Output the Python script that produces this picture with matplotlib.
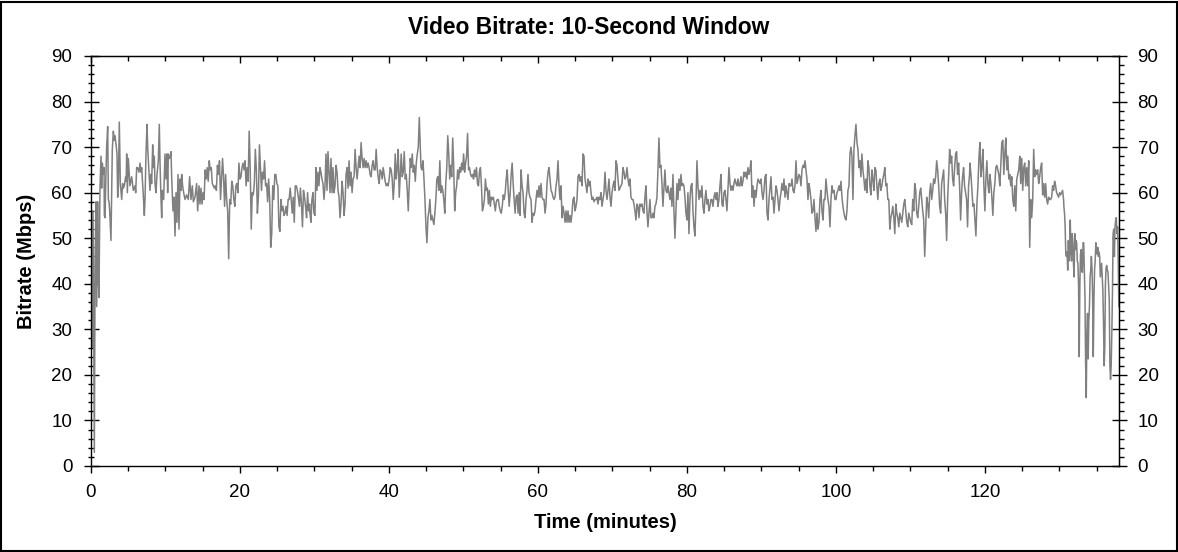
import numpy as np
import matplotlib
matplotlib.use("Agg")
import matplotlib.pyplot as plt
from matplotlib.ticker import MultipleLocator
from matplotlib.patches import Rectangle

plt.rcParams['font.family'] = ['Liberation Sans', 'DejaVu Sans']

# first 15 minutes, read point by point (minutes, Mbps)
t_start = [0.05, 0.12, 0.27, 0.45, 0.55, 0.67, 0.76, 0.89, 0.98, 1.07, 1.2, 1.34, 1.43,
           1.52, 1.66, 1.75, 1.79, 1.88, 1.97, 2.1, 2.24, 2.33, 2.42, 2.51, 2.68, 2.86,
           3.0, 3.13, 3.22, 3.4, 3.49, 3.58, 3.67, 3.8, 3.94, 4.12, 4.25, 4.34, 4.47,
           4.65, 4.72, 4.79, 4.88, 5.01, 5.23, 5.46, 5.68, 5.91, 6.0, 6.13, 6.26, 6.44,
           6.58, 6.71, 6.8, 7.02, 7.16, 7.25, 7.38, 7.52, 7.61, 7.7, 7.92, 8.05, 8.14,
           8.28, 8.37, 8.5, 8.59, 8.72, 8.86, 9.04, 9.17, 9.26, 9.4, 9.49, 9.57, 9.75,
           9.93, 10.07, 10.2, 10.29, 10.38, 10.51, 10.65, 10.74, 10.83, 11.0, 11.14,
           11.28, 11.41, 11.54, 11.68, 11.81, 11.95, 12.08, 12.17, 12.3, 12.44, 12.62,
           12.84, 13.06, 13.24, 13.42, 13.6, 13.74, 13.96, 14.18, 14.32, 14.5, 14.63]
v_start = [50, 26, 56, 3, 45, 58, 35, 58, 41, 37, 60.5, 68, 61,
           66.5, 64, 65.5, 55, 54.5, 61.5, 70, 74.5, 58.5, 58, 56, 49.5, 69.5,
           73.5, 71.5, 72.5, 70, 68.5, 59, 61, 75.5, 62, 58.5, 62, 61, 61.5,
           63.5, 62.5, 68.5, 60, 67.5, 61.5, 63.5, 60.5, 61.5, 60, 65.5, 65.5, 64.5,
           66.5, 64.5, 65.5, 59.5, 55, 58.5, 68.5, 75, 70, 67, 60.5, 64, 62,
           70.5, 65.5, 68, 62, 60, 64, 67, 75, 67, 58.5, 54.5, 60.5, 58.5,
           68.5, 63, 68.5, 60, 68.5, 67.5, 68, 69, 63.5, 56, 59,
           50.5, 60, 53.5, 64, 52, 63, 60.5, 64, 61.5, 60, 58.5,
           59.5, 58.5, 63.5, 58.5, 61.5, 58, 59, 62, 56, 61.5, 57.5]

# the rest, evenly sampled stretches: (first minute, last minute, values in Mbps)
seg_15_29 = [61, 57.5, 60, 58.5, 65, 63, 65.5, 62.5, 67, 65, 65.5, 62, 61.5, 61, 61.5, 60.5,
             66, 64, 67, 58.5, 63, 67.5, 63.5, 57, 64, 58.5, 56, 45.5, 58.5, 57.5, 62.5, 61.5,
             58.5, 57, 61.5, 62, 60, 66.5, 63, 63.5, 65.5, 66.5, 65, 67, 61.5, 65.5, 62.5, 73.5,
             65.5, 52, 60, 59.5, 62, 69.5, 65, 55.5, 59, 70.5, 65.5, 60.5, 64.5, 63, 67, 61.5,
             62, 58, 63, 58.5, 48, 51, 61.5, 58.5, 64, 64, 62, 61.5, 52.5, 51.5, 58.5, 56,
             57, 55, 55.5, 57, 55, 58.5, 58.5, 61, 58.5, 55.5, 59, 53.5, 61.5, 61.5, 60.5, 59,
             57, 61, 57.5, 52.5, 60.5, 59, 57, 54.5, 60, 56, 57.5]
seg_29_44 = [55.5, 53.5, 58.5, 60, 55.5, 55, 65.5, 60.5, 64.5, 61.5, 65.5, 64.5, 63, 62, 58.5,
             61.5, 68.5, 60.5, 69, 64.5, 60, 67.5, 60, 65.5, 60, 61.5, 66, 64.5, 60.5, 59, 54.5,
             57.5, 62.5, 60, 55, 57.5, 64, 65.5, 61, 67, 61.5, 64.5, 60, 63, 63.5, 69.5, 65.5,
             63, 65.5, 68, 65.5, 71, 67.5, 65.5, 67.5, 65.5, 67, 65.5, 66.5, 65.5, 64, 63.5, 66,
             67, 65, 65, 69.5, 65.5, 63.5, 62, 65, 64.5, 63, 65.5, 64, 62.5, 61.5, 62, 61.5, 63,
             65.5, 65, 63, 58.5, 62, 68.5, 63, 65.5, 69.5, 59, 64, 68.5, 63.5, 64.5, 69, 63, 64,
             60.5, 56, 62, 67.5, 65.5, 68.5, 64.5, 66, 62.5, 66.5, 68.5, 70, 76.5]
seg_44_59 = [65.5, 65, 67, 63, 58.5, 52.5, 49, 54.5, 56, 58.5, 54, 55, 54, 53, 55.5, 58.5, 63,
             63.5, 60.5, 67, 60, 61.5, 60.5, 58.5, 55.5, 62, 65.5, 72.5, 68.5, 63, 66, 63.5, 72,
             65.5, 56, 60, 61.5, 65, 63, 65.5, 64.5, 66.5, 65, 68.5, 64.5, 66.5, 68, 73, 65,
             65.5, 64, 63.5, 64, 63, 65, 63.5, 65.5, 62, 61.5, 64.5, 65.5, 61.5, 56, 57, 58.5,
             63, 60.5, 61, 57.5, 60.5, 57, 59, 58.5, 59, 57.5, 56, 58, 58.5, 58.5, 57, 56, 55.5,
             57, 59.5, 58.5, 60, 63, 65, 60.5, 57, 60, 64, 66.5, 62, 58.5, 55.5, 59, 59.5, 55.5,
             60, 55, 65, 61.5, 60, 55.5, 54.5, 58.5, 60.5, 64, 60, 59]
seg_59_74 = [58.5, 53.5, 55.5, 55, 56, 58.5, 60.5, 59, 61.5, 59, 62, 59, 58.5, 58.5, 55.5, 57.5,
             62, 64.5, 65.5, 63, 60.5, 60, 59, 58.5, 59, 61.5, 63, 67, 61.5, 58.5, 61.5, 54.5,
             57, 55.5, 53.5, 56, 53.5, 56, 53.5, 55, 53.5, 55.5, 58.5, 59, 56, 57, 58.5, 63.5,
             64, 62.5, 63.5, 61.5, 68.5, 68, 63, 61.5, 60, 63, 61.5, 62.5, 60, 58.5, 59, 58,
             58.5, 58.5, 59, 57.5, 59, 58.5, 60, 57, 58.5, 60, 64.5, 60.5, 58.5, 60.5, 63, 59,
             57, 60, 61.5, 62.5, 60.5, 67, 66, 63, 60.5, 61, 61.5, 62, 65.5, 64.5, 63, 63.5,
             65.5, 63, 61.5, 63, 59, 58.5, 58.5, 57.5, 56, 54, 57.5, 57, 54.5]
seg_74_88 = [57.5, 57, 57.5, 56, 55.5, 59, 61.5, 56, 52.5, 55.5, 58.5, 54.5, 54.5, 55.5, 54.5,
             57, 57.5, 59, 65, 72, 65.5, 66, 62, 57, 61, 65, 60.5, 60, 61.5, 60, 58.5, 61, 57,
             64, 56, 50, 56, 62, 58.5, 63, 60.5, 64, 61.5, 62, 61.5, 59, 55.5, 54, 60, 51, 58.5,
             61.5, 62, 56, 52.5, 50.5, 57.5, 67, 61.5, 58.5, 60.5, 59, 61.5, 57, 55.5, 58.5,
             60.5, 57.5, 58.5, 56, 57, 58.5, 58.5, 57, 59, 60, 58.5, 60, 57, 58.5, 61.5, 64,
             57.5, 57, 60, 60.5, 58.5, 56, 60.5, 65.5, 62, 60.5, 61.5, 60.5, 62, 63, 62, 61.5,
             63, 61.5, 61.5, 63.5, 61.5, 62.5, 64.5, 63.5, 64.5, 63, 65.5, 64, 65]
seg_88_103 = [67, 59, 61.5, 57, 60.5, 59, 61.5, 63, 62.5, 62, 63, 60, 58.5, 60.5, 63.5, 64,
              55.5, 54, 58.5, 61, 63.5, 58.5, 59, 55.5, 58.5, 61.5, 60.5, 58.5, 56, 58.5, 60,
              62, 60.5, 63, 59, 61.5, 60, 58.5, 62, 61.5, 61.5, 63, 60.5, 60, 61.5, 67, 62, 63,
              64, 63.5, 61.5, 65, 66, 65.5, 67, 65, 63, 58.5, 62, 60.5, 58.5, 55.5, 56, 58.5,
              54.5, 51.5, 55.5, 52, 53.5, 58.5, 60.5, 56, 54, 58.5, 58.5, 63, 60.5, 58.5, 57,
              52.5, 58.5, 61.5, 60, 60.5, 58.5, 58.5, 60, 60.5, 61.5, 60.5, 62.5, 59, 57, 55.5,
              54.5, 54, 56, 60.5, 61.5, 68.5, 70, 68, 58.5, 69.5, 72.5, 75, 71, 69.5, 65.5]
seg_103_118 = [67, 63.5, 68.5, 65, 63, 60.5, 63, 60, 67, 65.5, 61.5, 59.5, 65, 63, 60.5, 65.5,
               65, 61.5, 58.5, 62, 63, 60.5, 61.5, 63, 64, 65.5, 61.5, 62, 58.5, 58.5, 52,
               54.5, 55.5, 57, 54.5, 51, 57.5, 55.5, 54.5, 52.5, 55.5, 54.5, 53.5, 55.5, 57.5,
               58.5, 56, 53.5, 52.5, 55.5, 54.5, 53.5, 53, 58.5, 56, 62, 60.5, 55.5, 54.5, 57,
               60, 61, 58.5, 56, 54, 46, 52.5, 59, 57.5, 54.5, 60, 62, 58.5, 60.5, 63, 62, 63.5,
               67, 65, 61.5, 57, 55.5, 62, 63.5, 65, 58.5, 55.5, 49.5, 58.5, 63.5, 69.5, 66.5,
               68, 63, 61.5, 65.5, 68.5, 69, 64, 66.5, 61.5, 54, 60, 63.5, 65.5, 61.5, 60, 58.5,
               52.5, 61.5, 64]
seg_118_131 = [66.5, 64, 60.5, 57, 57.5, 54, 50.5, 57.5, 61.5, 67.5, 71, 63.5, 65.5, 69.5, 61.5,
               56, 63, 67, 62, 60, 64, 62, 59, 55, 60, 62, 65.5, 66, 65, 64, 61.5, 66.5, 71,
               71.5, 64, 68.5, 72, 65, 68, 63, 64, 61.5, 63.5, 58.5, 57, 61.5, 56, 63, 64, 65,
               68, 62, 67.5, 60.5, 65.5, 66.5, 61.5, 65.5, 61.5, 67, 48, 58.5, 54.5, 58.5, 69.5,
               63.5, 65, 64, 65, 62, 63.5, 65.5, 66.5, 59.5, 62, 59, 62, 58.5, 57.5, 59, 58.5,
               58.5, 59, 61.5, 60.5, 62.5, 61.5, 60, 59.5, 59, 60, 59.5, 60, 60.5, 58.5]
seg_131_138 = [57, 55.5, 52.5, 46.5, 46, 47, 43, 49.5, 45, 48, 54, 46.5, 45, 51, 49, 44.5, 41.5,
               51, 47.5, 49.5, 49, 45, 44.5, 39.5, 24, 40, 46.5, 47.5, 43, 42.5, 49, 49, 42.5,
               37, 22.5, 15, 29, 33.5, 23.5, 32, 35, 41.5, 43, 46, 43.5, 37, 24, 36.5, 43, 45,
               49, 47.5, 46.5, 48, 46, 47, 46, 41.5, 43, 44.5, 41.5, 38.5, 31.5, 22, 26, 40,
               43.5, 44, 43, 42.5, 39.5, 36.5, 22, 19, 22, 29, 38, 51, 52, 46, 52.5, 54, 54.5,
               51, 52.5, 45, 35]
segments = [(14.77, 29.35, seg_15_29), (29.39, 44.07, seg_29_44), (44.30, 58.93, seg_44_59),
            (59.07, 73.56, seg_59_74), (73.69, 88.46, seg_74_88), (88.60, 103.09, seg_88_103),
            (103.22, 117.94, seg_103_118), (117.99, 130.56, seg_118_131),
            (130.60, 137.98, seg_131_138)]

times = list(t_start)
rates = list(v_start)
for t0, t1, vals in segments:
    times.extend(np.linspace(t0, t1, len(vals)))
    rates.extend(vals)

W, H = 1178, 552
fig = plt.figure(figsize=(W / 100, H / 100), dpi=100)
ax = fig.add_axes([91 / W, 1 - 466 / H, (1119 - 91) / W, (466 - 56) / H])

ax.plot(times, rates, color='#808080', linewidth=1.1)

ax.set_xlim(0, 138)
ax.set_ylim(0, 90)
ax.xaxis.set_major_locator(MultipleLocator(20))
ax.xaxis.set_minor_locator(MultipleLocator(5))
ax.yaxis.set_major_locator(MultipleLocator(10))
ax.yaxis.set_minor_locator(MultipleLocator(2))
ax.tick_params(axis='x', which='major', direction='out', length=5, width=1, labelsize=13.5, pad=8)
ax.tick_params(axis='x', which='minor', direction='out', length=3.5, width=1)
ax.tick_params(axis='y', which='major', direction='inout', length=10.8, width=1, labelsize=13.5, pad=8)
ax.tick_params(axis='y', which='minor', direction='inout', length=5, width=1)
for s in ax.spines.values():
    s.set_linewidth(1.0)

top = ax.secondary_xaxis('top')
top.xaxis.set_major_locator(MultipleLocator(20))
top.xaxis.set_minor_locator(MultipleLocator(5))
top.tick_params(which='major', direction='in', length=5, width=1, labeltop=False)
top.tick_params(which='minor', direction='in', length=3.5, width=1)

right = ax.secondary_yaxis('right')
right.yaxis.set_major_locator(MultipleLocator(10))
right.yaxis.set_minor_locator(MultipleLocator(2))
right.tick_params(which='major', direction='inout', length=10.8, width=1, labelsize=13.5, pad=8)
right.tick_params(which='minor', direction='out', length=3.5, width=1)

fig.text(0.5, 1 - 27 / H, 'Video Bitrate: 10-Second Window', ha='center', va='center',
         fontsize=16.4, fontweight='bold')
fig.text(605 / W, 1 - 523 / H, 'Time (minutes)', ha='center', va='center',
         fontsize=14.5, fontweight='bold')
fig.text(27 / W, 1 - 261 / H, 'Bitrate (Mbps)', ha='center', va='center', rotation=90,
         fontsize=14.5, fontweight='bold')

fig.patches.append(Rectangle((0.5 / W, 1.5 / H), 1 - 2 / W, 1 - 3 / H, transform=fig.transFigure,
                             fill=False, edgecolor='black', linewidth=1.5))

fig.savefig('out.png', dpi=100)
